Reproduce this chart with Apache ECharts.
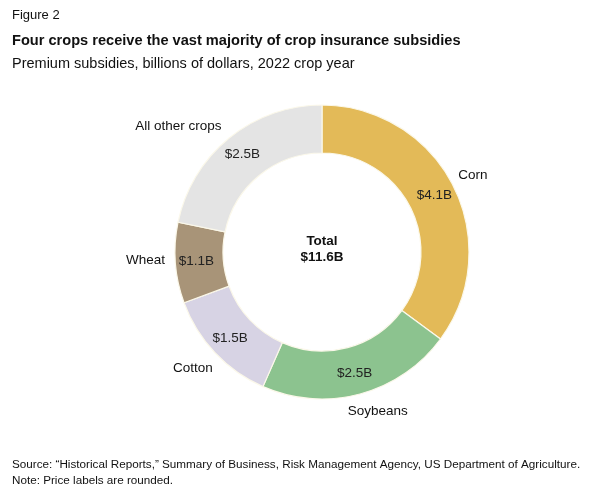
<!DOCTYPE html>
<html>
<head>
    <meta charset="utf-8">
    <title>Crop insurance subsidies</title>
    <script src="https://cdn.jsdelivr.net/npm/echarts@6/dist/echarts.min.js"></script>
    <style>
        html, body { margin: 0; padding: 0; background: #fff; }
        #chart { width: 590px; height: 491px; }
    </style>
</head>
<body>
<div id="chart"></div>
<script>
    // 2022 crop year, billions of dollars
    var crops = ['Corn', 'Soybeans', 'Cotton', 'Wheat', 'All other crops'];
    var subsidies = [4.08, 2.50, 1.49, 1.03, 2.53];
    var priceLabels = ['$4.1B', '$2.5B', '$1.5B', '$1.1B', '$2.5B'];
    var totalLabel = '$11.6B';
    var colors = ['#e3ba58', '#8cc38f', '#d7d3e4', '#a89478', '#e4e4e4'];

    var font = '"Liberation Sans", Arial, sans-serif';
    var center = [322, 252];

    // nudges for the crop names outside the ring
    var nameNudge = {
        'Corn': [0, 0],
        'Soybeans': [12, -4],
        'Cotton': [-6, 0],
        'Wheat': [-8, -4],
        'All other crops': [-37, 5]
    };

    var chart = echarts.init(document.getElementById('chart'), null, { renderer: 'canvas' });

    var ringData = crops.map(function (name, i) {
        return {
            name: name,
            value: subsidies[i],
            itemStyle: { color: colors[i] },
            label: { formatter: priceLabels[i] }
        };
    });

    var nameData = crops.map(function (name, i) {
        return { name: name, value: subsidies[i], label: { offset: nameNudge[name] } };
    });

    var option = {
        animation: false,
        title: [
            {
                text: 'Figure 2',
                left: 7, top: 4,
                textStyle: { fontFamily: font, fontSize: 13, fontWeight: 'normal', color: '#111' }
            },
            {
                text: 'Four crops receive the vast majority of crop insurance subsidies',
                left: 7, top: 28,
                textStyle: { fontFamily: font, fontSize: 14.6, fontWeight: 'bold', color: '#111' }
            },
            {
                text: 'Premium subsidies, billions of dollars, 2022 crop year',
                left: 7, top: 51,
                textStyle: { fontFamily: font, fontSize: 14.5, fontWeight: 'normal', color: '#111' }
            },
            {
                text: 'Source: \u201cHistorical Reports,\u201d Summary of Business, Risk Management Agency, US Department of Agriculture.\nNote: Price labels are rounded.',
                left: 7, top: 452,
                textStyle: { fontFamily: font, fontSize: 11.7, fontWeight: 'normal', color: '#111', lineHeight: 16 }
            }
        ],
        graphic: [
            {
                type: 'text',
                x: center[0],
                y: center[1] - 19,
                style: {
                    text: 'Total\n' + totalLabel,
                    align: 'center',
                    font: 'bold 13.5px ' + font,
                    fill: '#111',
                    lineHeight: 16
                }
            }
        ],
        series: [
            {
                type: 'pie',
                center: center,
                radius: [99, 147],
                startAngle: 90,
                clockwise: true,
                silent: true,
                itemStyle: { borderColor: '#fbf8ea', borderWidth: 1.2 },
                label: {
                    show: true,
                    position: 'inside',
                    fontFamily: font,
                    fontSize: 13.5,
                    color: '#222'
                },
                labelLine: { show: false },
                data: ringData
            },
            {
                type: 'pie',
                center: center,
                radius: [148, 184],
                startAngle: 90,
                clockwise: true,
                silent: true,
                itemStyle: { color: 'transparent' },
                label: {
                    show: true,
                    position: 'inside',
                    formatter: '{b}',
                    fontFamily: font,
                    fontSize: 13.5,
                    color: '#111'
                },
                labelLine: { show: false },
                data: nameData
            }
        ]
    };

    chart.setOption(option);
</script>
</body>
</html>
